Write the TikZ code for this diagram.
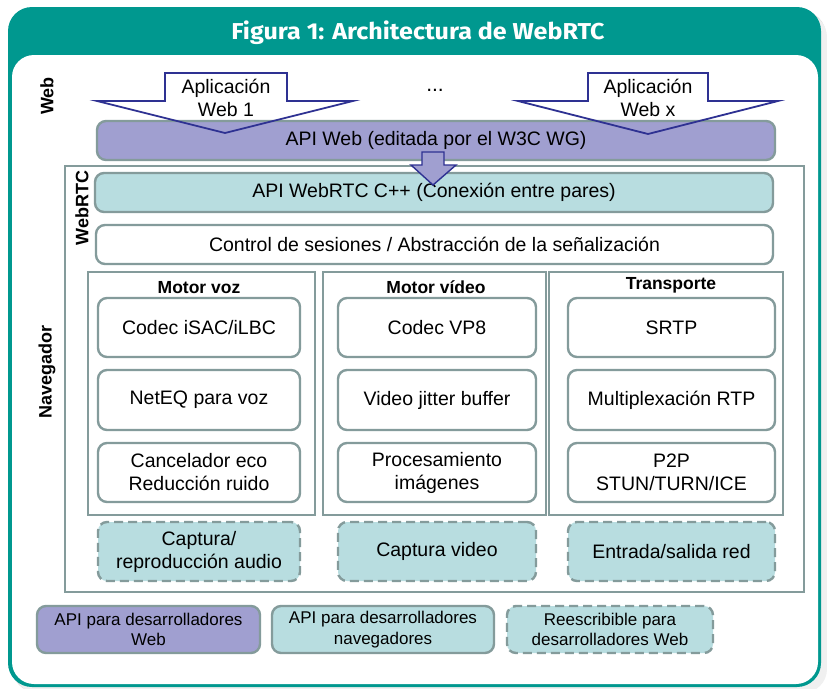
\documentclass[tikz,border=0pt]{standalone}
\usepackage{fontspec}
\setmainfont{Liberation Sans}
\newfontfamily\titlefont{Fira Sans}
\definecolor{tealA}{RGB}{0,152,143}
\definecolor{purp}{RGB}{160,159,208}
\definecolor{ltteal}{RGB}{184,221,224}
\definecolor{bord}{RGB}{132,155,155}
\definecolor{navy}{RGB}{46,49,146}
\begin{document}
\begin{tikzpicture}[x=1pt,y=-1pt,
  txt/.style={font=\fontsize{19.5}{23}\selectfont, align=center, inner sep=0},
  box/.style={txt, draw=bord, line width=2.4pt, rounded corners=9pt},
  wbox/.style={box, fill=white},
  pbox/.style={box, fill=purp},
  tbox/.style={box, fill=ltteal},
  dbox/.style={box, fill=ltteal, dash pattern=on 9pt off 5pt},
  legtxt/.style={font=\fontsize{17}{20.5}\selectfont},
  colbox/.style={draw=bord, line width=2pt},
  hdr/.style={font=\fontsize{17.5}{20}\selectfont\bfseries, inner sep=0},
  side/.style={font=\fontsize{18}{20}\selectfont\bfseries, inner sep=0, rotate=90},
  arrowshape/.style={draw=navy, line width=1.8pt, line join=miter}
]
\useasboundingbox (0,0) rectangle (827,688);
% frame with shadow
\fill[black!12, rounded corners=24pt] (12,11) rectangle (826,692);
\fill[black!6, rounded corners=24pt] (14,13) rectangle (827,693);
\fill[tealA, rounded corners=24pt] (8,7) rectangle (821,687);
\fill[white, rounded corners=22pt] (12,55) rectangle (818,684);
\node[font=\titlefont\fontsize{23}{26}\selectfont\bfseries, text=white, inner sep=0] (title) at (418,33) {\scalebox{1.09}[1]{Figura 1: Architectura de WebRTC}};

% side labels
\node[side] (lweb) at (47,96) {Web};
\node[side] (lnav) at (47,372) {Navegador};
\node[side] (lrtc) at (82,208) {WebRTC};

% WebRTC box
\draw[draw=bord, line width=1.6pt] (65,166) rectangle (804,592);

% application arrows (fill first)
\def\leftarrowpath{(165,73) -- (287,73) -- (287,101) -- (353,101) -- (225,133) -- (97,101) -- (165,101) -- cycle}
\def\rightarrowpath{(588,73) -- (708,73) -- (708,101) -- (778,101) -- (648,134) -- (518,101) -- (588,101) -- cycle}
\fill[white] \leftarrowpath;
\fill[white] \rightarrowpath;

\node[pbox, minimum width=678, minimum height=39] (apiweb) at (436,140.5) {API Web (editada por el W3C WG)};
\draw[arrowshape] \leftarrowpath;
\draw[arrowshape] \rightarrowpath;
\node[txt] (app1) at (226,98) {Aplicación\\Web 1};
\node[txt] (appx) at (648,98) {Aplicación\\Web x};
\node[txt, font=\fontsize{21}{23}\selectfont] (dots) at (435,90) {...};

\node[tbox, minimum width=678, minimum height=39] (apirtc) at (434,192.5) {API WebRTC C++ (Conexión entre pares)};
\node[wbox, minimum width=677, minimum height=39] (ctrl) at (434.5,244.5) {Control de sesiones / Abstracción de la señalización};

% small arrow
\filldraw[fill=purp, draw=navy, line width=1.4pt] (422,152) -- (444,152) -- (444,165) -- (456,165) -- (433,185) -- (411,165) -- (422,165) -- cycle;

% columns
\draw[colbox] (88,272) rectangle (315,515);
\draw[colbox] (323,272) rectangle (546,515);
\draw[colbox] (549,272) rectangle (783,515);
\node[hdr] (hvoz) at (199,288) {Motor voz};
\node[hdr] (hvid) at (436,287) {Motor vídeo};
\node[hdr] (htr) at (671,285) {Transporte};

% voz
\node[wbox, minimum width=202, minimum height=59] (v1) at (199,327.5) {Codec iSAC/iLBC};
\node[wbox, minimum width=202, minimum height=60] (v2) at (199,400) {NetEQ para voz};
\node[wbox, minimum width=202, minimum height=59] (v3) at (199,472.5) {Cancelador eco\\Reducción ruido};
\node[dbox, minimum width=202, minimum height=59] (v4) at (199,551.5) {Captura/\\reproducción audio};
% video
\node[wbox, minimum width=198, minimum height=59] (d1) at (437,327.5) {Codec VP8};
\node[wbox, minimum width=198, minimum height=60] (d2) at (437,400) {Video jitter buffer};
\node[wbox, minimum width=198, minimum height=59] (d3) at (437,472.5) {Procesamiento\\imágenes};
\node[dbox, minimum width=198, minimum height=59] (d4) at (437,551.5) {Captura video};
% transporte
\node[wbox, minimum width=207, minimum height=59] (t1) at (671.5,327.5) {SRTP};
\node[wbox, minimum width=207, minimum height=60] (t2) at (671.5,400) {Multiplexación RTP};
\node[wbox, minimum width=207, minimum height=59] (t3) at (671.5,472.5) {P2P\\STUN/TURN/ICE};
\node[dbox, minimum width=207, minimum height=59] (t4) at (671.5,551.5) {Entrada/salida red};

% legend
\node[pbox, legtxt, minimum width=223, minimum height=47] (lg1) at (148.5,629.5) {API para desarrolladores\\Web};
\node[tbox, legtxt, minimum width=222, minimum height=47] (lg2) at (383,629.5) {API para desarrolladores\\navegadores};
\node[dbox, legtxt, minimum width=206, minimum height=47] (lg3) at (610,629.5) {Reescribible para\\desarrolladores Web};
\end{tikzpicture}
\end{document}
